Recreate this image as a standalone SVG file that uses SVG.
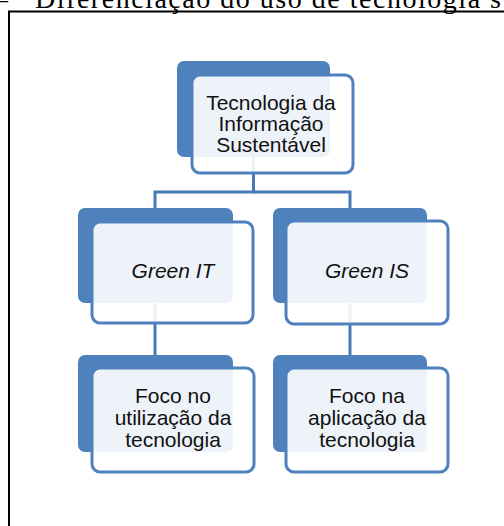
<svg xmlns="http://www.w3.org/2000/svg" width="504" height="526" viewBox="0 0 504 526">
  <style>
    .back { fill: #4F81BD; }
    .front { fill: #FFFFFF; fill-opacity: 0.9; stroke: #4F81BD; stroke-width: 3; }
    .lbl { font-family: "Liberation Sans", Arial, sans-serif; font-size: 21px; fill: #111; text-anchor: middle; }
    .it { font-style: italic; }
    .conn { fill: none; stroke: #4A7AB5; stroke-width: 3; }
    .cap { font-family: "Liberation Serif", "Times New Roman", serif; font-size: 28px; fill: #000; }
  </style>
  <rect width="504" height="526" fill="#FFFFFF"/>
  <text class="cap" x="-6" y="8">–</text>
  <text class="cap" x="35" y="8" textLength="466" lengthAdjust="spacing">Diferenciação do uso de tecnologia s</text>
  <path d="M9 526 V11.5 H504" fill="none" stroke="#000" stroke-width="2"/>

  <g id="connectors">
    <path class="conn" d="M253.5 157 V192 H155 V208"/>
    <path class="conn" d="M253.5 192 H350 V208"/>
    <path class="conn" d="M155 303 V355"/>
    <path class="conn" d="M350 303 V355"/>
  </g>

  <g id="node-ti">
    <rect class="back" x="177" y="61" width="153" height="96" rx="7"/>
    <rect class="front" x="192" y="75" width="161" height="98" rx="8"/>
    <text class="lbl" x="271" y="110">Tecnologia da</text>
    <text class="lbl" x="271" y="131">Informação</text>
    <text class="lbl" x="271" y="152">Sustentável</text>
  </g>

  <g id="node-greenit">
    <rect class="back" x="78" y="208" width="155" height="95" rx="7"/>
    <rect class="front" x="92" y="222" width="161" height="101" rx="8"/>
    <text class="lbl it" x="173" y="278">Green IT</text>
  </g>

  <g id="node-greenis">
    <rect class="back" x="273" y="208" width="154" height="95" rx="7"/>
    <rect class="front" x="286" y="221" width="162" height="103" rx="8"/>
    <text class="lbl it" x="367" y="278">Green IS</text>
  </g>

  <g id="node-foco-no">
    <rect class="back" x="78" y="355" width="155" height="97" rx="7"/>
    <rect class="front" x="92" y="368" width="162" height="104" rx="8"/>
    <text class="lbl" x="173" y="403">Foco no</text>
    <text class="lbl" x="173" y="425">utilização da</text>
    <text class="lbl" x="173" y="447">tecnologia</text>
  </g>

  <g id="node-foco-na">
    <rect class="back" x="273" y="355" width="154" height="97" rx="7"/>
    <rect class="front" x="286" y="368" width="162" height="104" rx="8"/>
    <text class="lbl" x="367" y="403">Foco na</text>
    <text class="lbl" x="367" y="425">aplicação da</text>
    <text class="lbl" x="367" y="447">tecnologia</text>
  </g>
</svg>
